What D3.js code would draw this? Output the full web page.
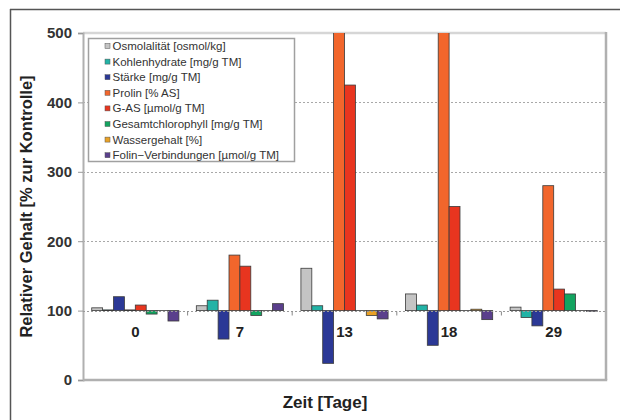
<!DOCTYPE html>
<html><head><meta charset="utf-8">
<script src="https://cdn.jsdelivr.net/npm/d3@7"></script>
<style>body{margin:0;background:#fff;}svg{display:block;font-family:Arial,"Liberation Sans",sans-serif;}</style>
</head><body>
<svg id="c" width="620" height="420"></svg>
<script>
const categories = ["0", "7", "13", "18", "29"];
const seriesNames = [
  "Osmolalität [osmol/kg]",
  "Kohlenhydrate [mg/g TM]",
  "Stärke [mg/g TM]",
  "Prolin [% AS]",
  "G-AS [µmol/g TM]",
  "Gesamtchlorophyll [mg/g TM]",
  "Wassergehalt [%]",
  "Folin−Verbindungen [µmol/g TM]"
];
const osmolalitaet = [104, 107, 161, 124, 105];
const kohlenhydrate = [101, 115, 107, 108, 90];
const staerke = [120, 59, 24, 50, 78];
const prolin = [101, 180, 600, 600, 280];
const gas = [108, 164, 425, 250, 131];
const chlorophyll = [95, 93, 100, 100, 124];
const wassergehalt = [100, 100, 93, 102, 100];
const folin = [85, 110, 88, 87, 99];
const yTicks = [0, 100, 200, 300, 400, 500];
const colors = ["#c4c4c4", "#22b3a6", "#2b3896", "#f2662c", "#e8351f", "#13a460", "#e9a126", "#5a3f8c"];

const values = [osmolalitaet, kohlenhydrate, staerke, prolin, gas, chlorophyll, wassergehalt, folin];
const svg = d3.select("#c");
const L = 83, R = 606, T = 33, B = 380, BASE = 100;

// outer frame
svg.append("line").attr("x1", 10).attr("x2", 620).attr("y1", 9.5).attr("y2", 9.5).attr("stroke", "#555").attr("stroke-width", 1.5);
svg.append("line").attr("x1", 10.5).attr("x2", 10.5).attr("y1", 9).attr("y2", 420).attr("stroke", "#555").attr("stroke-width", 1.5);

const y = d3.scaleLinear().domain([0, 500]).range([B, T]);
const x0 = d3.scaleBand().domain(categories).range([L, R]).padding(0);
const x1 = d3.scaleBand().domain(d3.range(seriesNames.length)).range([0, x0.bandwidth()]).paddingInner(0).paddingOuter(0.8);

// gridlines
svg.append("g").selectAll("line").data(yTicks.filter(d => d > 0 && d < 500)).join("line")
  .attr("x1", L).attr("x2", R).attr("y1", d => Math.round(y(d)) + 0.5).attr("y2", d => Math.round(y(d)) + 0.5)
  .attr("stroke", "#a8a8a8").attr("stroke-dasharray", "2,2").attr("stroke-width", 1);

// plot border top
svg.append("line").attr("x1", L).attr("x2", R).attr("y1", T).attr("y2", T).attr("stroke", "#d6d6d6").attr("stroke-width", 2.5);

// bars
svg.append("clipPath").attr("id", "clip").append("rect").attr("x", L).attr("y", T).attr("width", R - L).attr("height", B - T);
const gBars = svg.append("g").attr("clip-path", "url(#clip)");
categories.forEach((c, ci) => {
  values.forEach((arr, si) => {
    const v = arr[ci];
    const ya = y(Math.max(v, BASE)), yb = y(Math.min(v, BASE));
    gBars.append("rect")
      .attr("x", x0(c) + x1(si)).attr("width", x1.bandwidth())
      .attr("y", ya).attr("height", Math.max(0.01, yb - ya))
      .attr("fill", colors[si]).attr("stroke", "#3a3a3a").attr("stroke-width", 0.8);
  });
});

svg.append("line").attr("x1", R).attr("x2", R).attr("y1", T - 1).attr("y2", B).attr("stroke", "#b0b0b0").attr("stroke-width", 2.5);
svg.append("line").attr("x1", L).attr("x2", R + 1.2).attr("y1", B).attr("y2", B).attr("stroke", "#b0b0b0").attr("stroke-width", 2.5);

// y axis
const yAxis = svg.append("g").attr("transform", `translate(${L},0)`)
  .call(d3.axisLeft(y).tickValues(yTicks).tickSize(5).tickPadding(6).tickFormat(d3.format("d")));
yAxis.select(".domain").attr("stroke", "#b0b0b0").attr("stroke-width", 2);
yAxis.selectAll(".tick line").attr("stroke", "#999");
yAxis.selectAll("text").attr("font-size", 15).attr("font-weight", "bold").attr("fill", "#333");

// category axis at 100
const yb100 = Math.round(y(BASE)) + 0.5;
svg.append("line").attr("x1", L).attr("x2", R).attr("y1", yb100).attr("y2", yb100).attr("stroke", "#9a9a9a").attr("stroke-width", 1).attr("stroke-dasharray", "2,2");
svg.append("g").selectAll("line").data(categories.slice(1)).join("line")
  .attr("x1", d => x0(d)).attr("x2", d => x0(d)).attr("y1", yb100).attr("y2", yb100 + 4)
  .attr("stroke", "#888");
svg.append("g").selectAll("text").data(categories).join("text")
  .attr("x", d => x0(d) + x0.bandwidth() / 2).attr("y", yb100 + 25)
  .attr("text-anchor", "middle").attr("font-size", 15).attr("font-weight", "bold").attr("fill", "#222")
  .text(d => d);

// axis titles
svg.append("text").attr("transform", `translate(32,${(T + B) / 2}) rotate(-90)`)
  .attr("text-anchor", "middle").attr("font-size", 16.5).attr("font-weight", "bold").attr("fill", "#222")
  .text("Relativer Gehalt [% zur Kontrolle]");
svg.append("text").attr("x", 325).attr("y", 408)
  .attr("text-anchor", "middle").attr("font-size", 17).attr("font-weight", "bold").attr("fill", "#222")
  .text("Zeit [Tage]");

// legend
const lg = svg.append("g");
lg.append("rect").attr("x", 88.5).attr("y", 38.5).attr("width", 206).attr("height", 123)
  .attr("fill", "#fff").attr("stroke", "#a0a0a0").attr("stroke-width", 1.5);
seriesNames.forEach((name, i) => {
  const cy = 46 + i * 15.6;
  lg.append("rect").attr("x", 105).attr("y", cy - 2.5).attr("width", 5).attr("height", 5)
    .attr("fill", colors[i]).attr("stroke", "#555").attr("stroke-width", 0.5);
  lg.append("text").attr("x", 112.5).attr("y", cy + 4).attr("font-size", 11.5).attr("fill", "#333").text(name);
});
</script>
</body></html>
